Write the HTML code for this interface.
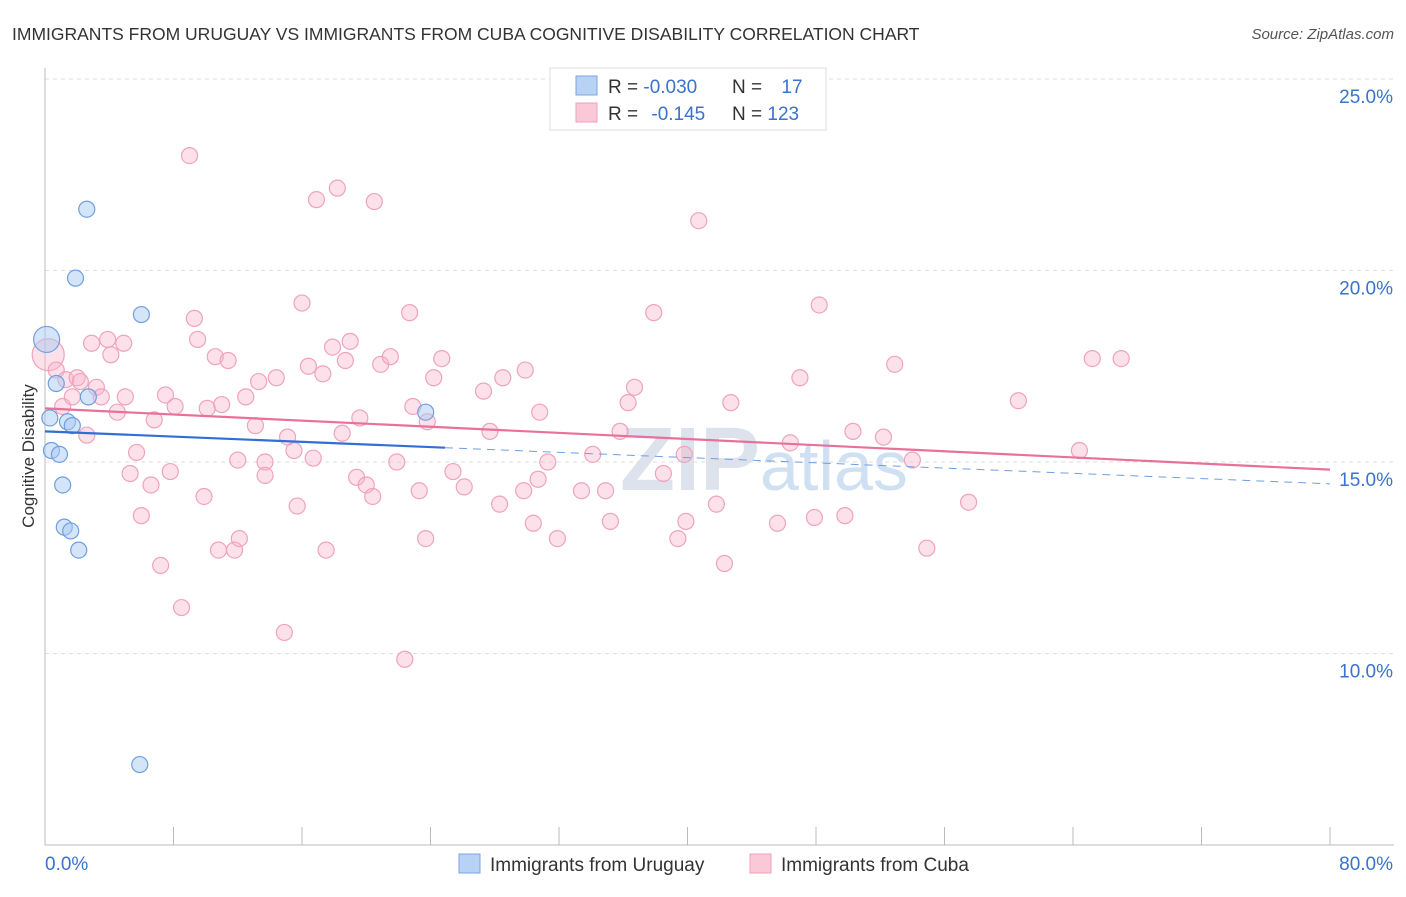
<!DOCTYPE html>
<html><head><meta charset="utf-8"><style>
body{margin:0;background:#fff;font-family:"Liberation Sans",sans-serif;}
svg text{font-family:"Liberation Sans",sans-serif;}
</style></head><body>
<svg id="chart" width="1406" height="892" xmlns="http://www.w3.org/2000/svg">
<text x="12" y="40" font-size="17.5" fill="#333">IMMIGRANTS FROM URUGUAY VS IMMIGRANTS FROM CUBA COGNITIVE DISABILITY CORRELATION CHART</text>
<text x="1394" y="39" font-size="15" fill="#555" font-style="italic" text-anchor="end">Source: ZipAtlas.com</text>
<text x="34" y="456" font-size="17" fill="#333" text-anchor="middle" transform="rotate(-90 34 456)">Cognitive Disability</text>
<text x="620" y="490" font-size="90" fill="#dde3ec" font-weight="bold" font-family="Liberation Serif">ZIP<tspan font-size="70" fill="#cfe0f2" font-family="Liberation Sans" font-weight="normal">atlas</tspan></text>
<g id="grid"></g><g id="axes"></g><g id="pink"></g><g id="blue"></g><g id="trends"></g>
<g>
<rect x="550" y="68" width="276" height="62" fill="#fff" stroke="#ddd"/>
<rect x="576" y="76" width="21" height="19" fill="#b8d2f5" stroke="#7aa6e0"/>
<rect x="576" y="103" width="21" height="19" fill="#fac8d6" stroke="#f0a0b8"/>
<text x="608" y="93" font-size="19" fill="#333">R = <tspan fill="#3a72cc">-0.030</tspan></text>
<text x="732" y="93" font-size="19" fill="#333">N = <tspan fill="#3a72cc" dx="14">17</tspan></text>
<text x="608" y="120" font-size="19" fill="#333">R = <tspan fill="#3a72cc" dx="8">-0.145</tspan></text>
<text x="732" y="120" font-size="19" fill="#333">N = <tspan fill="#3a72cc">123</tspan></text>
</g>
<g>
<rect x="459" y="854" width="21" height="19" fill="#b8d2f5" stroke="#7aa6e0"/>
<text x="490" y="871" font-size="19" fill="#333">Immigrants from Uruguay</text>
<rect x="750" y="854" width="21" height="19" fill="#fac8d6" stroke="#f0a0b8"/>
<text x="781" y="871" font-size="19" fill="#333">Immigrants from Cuba</text>
</g>
</svg>
<script>
const yTicks=[10,15,20,25];
const yTickLabels=["10.0%","15.0%","20.0%","25.0%"];
const xEndLabels=["0.0%","80.0%"];
const blueX=[0.1,0.3,0.4,0.7,0.9,1.1,1.2,1.4,1.6,1.7,2.1,1.9,2.6,2.7,6.0,23.7,5.9];
const blueY=[18.2,16.15,15.3,17.05,15.2,14.4,13.3,16.05,13.2,15.95,12.7,19.8,21.6,16.7,18.85,16.3,7.1];
const pinkX=[0.2,0.7,1.1,1.3,1.7,2.0,2.2,2.6,2.9,3.2,3.5,3.9,4.1,4.5,4.9,5.0,5.3,5.7,6.0,6.6,6.8,7.2,7.5,7.8,8.1,8.5,9.0,9.3,9.5,9.9,10.1,10.6,10.8,11.0,11.4,11.8,12.0,12.1,12.5,13.1,13.3,13.7,13.7,14.4,14.9,15.1,15.5,15.7,16.0,16.4,16.7,16.9,17.3,17.5,17.9,18.2,18.5,18.7,19.0,19.4,19.6,20.0,20.4,20.5,20.9,21.5,21.9,22.4,22.7,22.9,23.3,23.7,23.8,24.2,24.7,25.4,26.1,27.3,27.7,28.3,28.5,29.8,29.9,30.4,30.7,30.8,31.3,31.9,33.4,34.1,34.9,35.2,35.8,36.3,36.7,37.9,38.5,39.4,39.8,39.9,40.7,41.8,42.3,42.7,45.6,46.4,47.0,47.9,48.2,49.8,50.3,52.2,52.9,54.0,54.9,57.5,60.6,64.4,65.2,67.0];
const pinkY=[17.8,17.4,16.45,17.15,16.7,17.2,17.1,15.7,18.1,16.95,16.7,18.2,17.8,16.3,18.1,16.7,14.7,15.25,13.6,14.4,16.1,12.3,16.75,14.75,16.45,11.2,23.0,18.75,18.2,14.1,16.4,17.75,12.7,16.5,17.65,12.7,15.05,13.0,16.7,15.95,17.1,15.0,14.65,17.2,10.55,15.65,15.3,13.85,19.15,17.5,15.1,21.85,17.3,12.7,18.0,22.15,15.75,17.65,18.15,14.6,16.15,14.4,14.1,21.8,17.55,17.75,15.0,9.85,18.9,16.45,14.25,13.0,16.05,17.2,17.7,14.75,14.35,16.85,15.8,13.9,17.2,14.25,17.4,13.4,14.55,16.3,15.0,13.0,14.25,15.2,14.25,13.45,15.8,16.55,16.95,18.9,14.7,13.0,15.2,13.45,21.3,13.9,12.35,16.55,13.4,15.5,17.2,13.55,19.1,13.6,15.8,15.65,17.55,15.05,12.75,13.95,16.6,15.3,17.7,17.7];
const blueTrend=[15.8,14.43];
const pinkTrend=[16.4,14.8];
const blueSolidEnd=24.9;
const X=v=>45+v/80*1285, Y=v=>79+(25-v)*38.3;
const NS="http://www.w3.org/2000/svg";
function mk(p,t,a){const e=document.createElementNS(NS,t);for(const k in a)e.setAttribute(k,a[k]);document.getElementById(p).appendChild(e);return e;}
yTicks.forEach((t,i)=>{
 const l=mk('grid','line',{x1:45,x2:1394,y1:Y(t),y2:Y(t),stroke:'#ddd','stroke-dasharray':'4,4'});
 
 
 const tx=mk('grid','text',{x:1393,y:Y(t)+24,'font-size':19,fill:'#3a72cc','text-anchor':'end'});
 tx.textContent=yTickLabels[i];
 
 
});
const ax=mk('axes','line',{x1:45,x2:45,y1:68,y2:845,stroke:'#bbb'});


const bx=mk('axes','line',{x1:45,x2:1394,y1:845,y2:845,stroke:'#bbb'});


for(let i=0;i<=10;i++){const t=mk('axes','line',{x1:X(i*8),x2:X(i*8),y1:827,y2:845,stroke:'#bbb'});
 
 }
const xl0=mk('axes','text',{x:45,y:870,'font-size':19,fill:'#3a72cc'});xl0.textContent=xEndLabels[0];


const xl1=mk('axes','text',{x:1393,y:870,'font-size':19,fill:'#3a72cc','text-anchor':'end'});xl1.textContent=xEndLabels[1];


pinkX.forEach((x,i)=>{const c=mk('pink','circle',{cx:X(x),cy:Y(pinkY[i]),r:i==0?16:8,fill:'rgba(248,180,202,0.4)',stroke:'#f0a3bb','stroke-width':1.2});
 
 });
blueX.forEach((x,i)=>{const c=mk('blue','circle',{cx:X(x),cy:Y(blueY[i]),r:i==0?13:8,fill:'rgba(170,202,244,0.5)',stroke:'#6f9fe0','stroke-width':1.2});
 
 });
const bt=x=>blueTrend[0]+(blueTrend[1]-blueTrend[0])*x/80;
const l1=mk('trends','line',{x1:X(0),y1:Y(bt(0)),x2:X(blueSolidEnd),y2:Y(bt(blueSolidEnd)),stroke:'#2f6fd6','stroke-width':2.2});


const l2=mk('trends','line',{x1:X(blueSolidEnd),y1:Y(bt(blueSolidEnd)),x2:X(80),y2:Y(bt(80)),stroke:'#6f9fe0','stroke-width':1,'stroke-dasharray':'8,6'});


const l3=mk('trends','line',{x1:X(0),y1:Y(pinkTrend[0]),x2:X(80),y2:Y(pinkTrend[1]),stroke:'#e9709a','stroke-width':2.2});


</script>
</body></html>
